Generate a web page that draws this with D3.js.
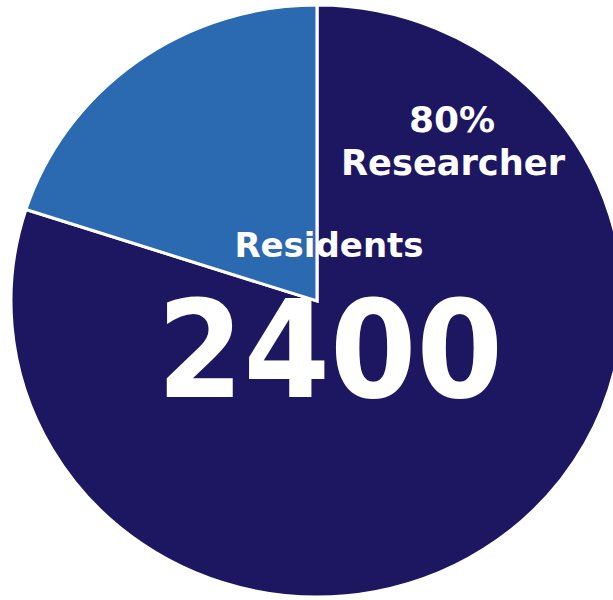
<!DOCTYPE html>
<html>
<head>
<meta charset="utf-8">
<script src="https://cdn.jsdelivr.net/npm/d3@7.9.0/dist/d3.min.js"></script>
<style>
    body { margin: 0; background: #fff; }
    svg { display: block; }
    text { font-family: "DejaVu Sans", Verdana, sans-serif; font-weight: bold; fill: #fff; }
</style>
</head>
<body>
<svg id="chart" width="613" height="600"></svg>
<script>
const categories = ["Researcher", "Residents"];
const values = [80, 20];
const colors = ["#1d1660", "#2b69b0"];
const total = 2400;

const svg = d3.select("#chart");

// pie centre and radius (slightly wider than tall)
const cx = 317, cy = 301, r = 296;

const pie = d3.pie()
    .sort(null)
    .value(d => d.value);

const arc = d3.arc()
    .innerRadius(0)
    .outerRadius(r);

const data = categories.map((c, i) => ({ name: c, value: values[i] }));

const g = svg.append("g")
    .attr("transform", `translate(${cx},${cy}) scale(1.034,1)`);

g.selectAll("path")
    .data(pie(data))
    .join("path")
    .attr("d", arc)
    .attr("fill", (d, i) => colors[i])
    .attr("stroke", "#fff")
    .attr("stroke-width", 3)
    .attr("stroke-linejoin", "miter");

// labels
const pct = Math.round(values[0] / d3.sum(values) * 100);

svg.append("text")
    .attr("x", 452)
    .attr("y", 132)
    .attr("text-anchor", "middle")
    .style("font-size", "36px")
    .text(`${pct}%`);

svg.append("text")
    .attr("x", 453)
    .attr("y", 175)
    .attr("text-anchor", "middle")
    .attr("textLength", 224)
    .attr("lengthAdjust", "spacingAndGlyphs")
    .style("font-size", "36px")
    .text(categories[0]);

svg.append("text")
    .attr("x", 329)
    .attr("y", 257)
    .attr("text-anchor", "middle")
    .style("font-size", "34px")
    .text(categories[1]);

svg.append("text")
    .attr("x", 330)
    .attr("y", 397)
    .attr("text-anchor", "middle")
    .attr("textLength", 346)
    .attr("lengthAdjust", "spacingAndGlyphs")
    .style("font-size", "136px")
    .text(total);
</script>
</body>
</html>
